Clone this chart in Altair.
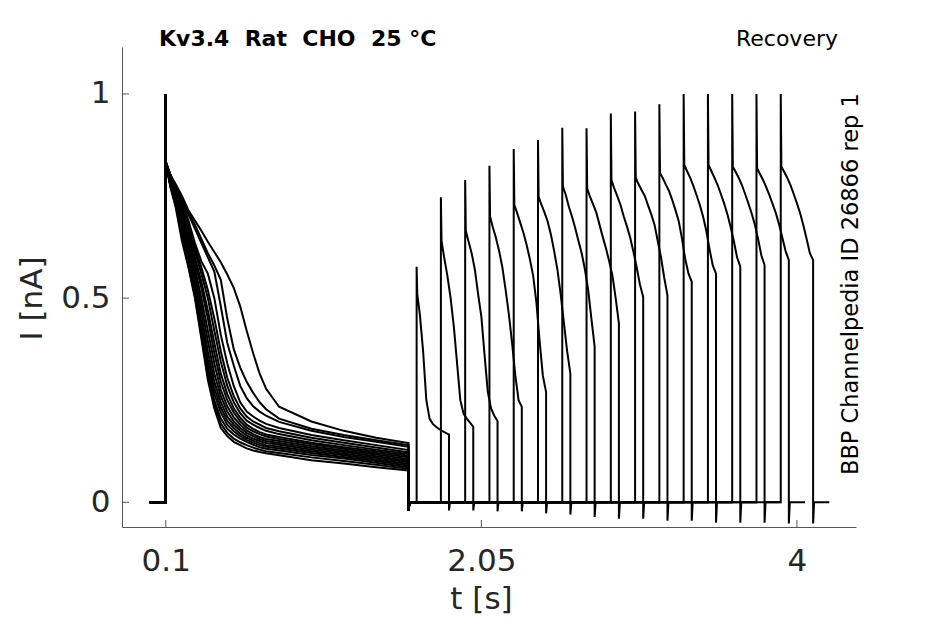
import altair as alt
import pandas as pd

# conditioning pulse: sample times (s)
p1_time = [0.10, 0.13, 0.16, 0.20, 0.24, 0.28, 0.32, 0.36, 0.40, 0.44, 0.48,
           0.52, 0.56, 0.60, 0.64, 0.68, 0.72, 0.80, 1.00, 1.20, 1.40, 1.60]

# conditioning pulse current per sweep (normalised)
p1_s01 = [0.83, 0.80, 0.78, 0.75, 0.715, 0.69, 0.665, 0.638, 0.613, 0.588, 0.558, 0.525, 0.48, 0.42, 0.365, 0.315, 0.278, 0.234, 0.198, 0.175, 0.158, 0.145]
p1_s02 = [0.83, 0.80, 0.775, 0.745, 0.71, 0.68, 0.645, 0.61, 0.58, 0.545, 0.45, 0.375, 0.33, 0.295, 0.268, 0.245, 0.228, 0.205, 0.18, 0.165, 0.152, 0.140]
p1_s03 = [0.83, 0.80, 0.775, 0.74, 0.705, 0.67, 0.635, 0.60, 0.565, 0.48, 0.39, 0.335, 0.285, 0.255, 0.235, 0.222, 0.212, 0.197, 0.175, 0.16, 0.148, 0.136]
p1_s04 = [0.835, 0.80, 0.775, 0.74, 0.69, 0.635, 0.59, 0.56, 0.50, 0.41, 0.34, 0.285, 0.245, 0.222, 0.21, 0.20, 0.192, 0.182, 0.165, 0.152, 0.140, 0.128]
p1_s05 = [0.835, 0.80, 0.77, 0.73, 0.68, 0.625, 0.575, 0.52, 0.45, 0.37, 0.305, 0.26, 0.23, 0.21, 0.198, 0.19, 0.182, 0.174, 0.158, 0.146, 0.134, 0.122]
p1_s06 = [0.83, 0.795, 0.765, 0.72, 0.67, 0.615, 0.56, 0.50, 0.42, 0.345, 0.285, 0.245, 0.218, 0.20, 0.19, 0.182, 0.175, 0.167, 0.152, 0.140, 0.129, 0.118]
p1_s07 = [0.83, 0.79, 0.76, 0.715, 0.66, 0.60, 0.54, 0.47, 0.39, 0.315, 0.265, 0.23, 0.207, 0.19, 0.18, 0.172, 0.166, 0.16, 0.146, 0.135, 0.125, 0.114]
p1_s08 = [0.83, 0.79, 0.755, 0.71, 0.65, 0.59, 0.525, 0.45, 0.365, 0.295, 0.25, 0.22, 0.198, 0.183, 0.174, 0.167, 0.161, 0.155, 0.142, 0.131, 0.121, 0.110]
p1_s09 = [0.83, 0.785, 0.75, 0.70, 0.64, 0.575, 0.50, 0.42, 0.34, 0.275, 0.235, 0.208, 0.19, 0.176, 0.167, 0.16, 0.155, 0.15, 0.137, 0.127, 0.117, 0.106]
p1_s10 = [0.83, 0.785, 0.745, 0.69, 0.63, 0.56, 0.48, 0.395, 0.315, 0.26, 0.222, 0.198, 0.182, 0.17, 0.162, 0.155, 0.15, 0.145, 0.133, 0.123, 0.113, 0.102]
p1_s11 = [0.83, 0.78, 0.74, 0.685, 0.62, 0.545, 0.46, 0.37, 0.295, 0.245, 0.21, 0.19, 0.175, 0.164, 0.156, 0.15, 0.145, 0.141, 0.129, 0.119, 0.109, 0.098]
p1_s12 = [0.83, 0.78, 0.74, 0.675, 0.61, 0.53, 0.44, 0.35, 0.28, 0.232, 0.20, 0.182, 0.168, 0.158, 0.151, 0.145, 0.14, 0.136, 0.125, 0.115, 0.105, 0.094]
p1_s13 = [0.83, 0.775, 0.735, 0.665, 0.60, 0.52, 0.425, 0.335, 0.265, 0.22, 0.19, 0.174, 0.162, 0.153, 0.146, 0.14, 0.136, 0.132, 0.121, 0.111, 0.101, 0.090]
p1_s14 = [0.83, 0.775, 0.73, 0.66, 0.59, 0.51, 0.415, 0.32, 0.25, 0.205, 0.18, 0.166, 0.156, 0.148, 0.141, 0.135, 0.131, 0.127, 0.116, 0.107, 0.097, 0.086]
p1_s15 = [0.83, 0.77, 0.73, 0.65, 0.58, 0.505, 0.41, 0.31, 0.24, 0.193, 0.17, 0.156, 0.147, 0.14, 0.134, 0.129, 0.125, 0.121, 0.11, 0.101, 0.092, 0.082]
p1_s16 = [0.83, 0.77, 0.725, 0.64, 0.575, 0.50, 0.40, 0.30, 0.23, 0.182, 0.162, 0.148, 0.140, 0.132, 0.127, 0.123, 0.12, 0.115, 0.103, 0.095, 0.086, 0.078]

# test pulse: sample times after its onset (s)
p2_time = [0.004, 0.02, 0.04, 0.06, 0.08, 0.10, 0.12, 0.14, 0.16, 0.18, 0.20]

p2_s01 = [0.51, 0.46, 0.37, 0.25, 0.205, 0.192, 0.185, 0.179, 0.174, 0.170, 0.166]
p2_s02 = [0.64, 0.60, 0.555, 0.50, 0.43, 0.34, 0.25, 0.217, 0.205, 0.195, 0.185]
p2_s03 = [0.665, 0.64, 0.61, 0.57, 0.51, 0.455, 0.36, 0.27, 0.23, 0.212, 0.199]
p2_s04 = [0.70, 0.675, 0.648, 0.615, 0.575, 0.52, 0.46, 0.39, 0.31, 0.25, 0.234]
p2_s05 = [0.728, 0.71, 0.685, 0.66, 0.63, 0.595, 0.555, 0.49, 0.395, 0.31, 0.27]
p2_s06 = [0.748, 0.73, 0.71, 0.687, 0.655, 0.615, 0.57, 0.51, 0.44, 0.37, 0.315]
p2_s07 = [0.773, 0.755, 0.725, 0.70, 0.672, 0.64, 0.61, 0.57, 0.52, 0.45, 0.381]
p2_s08 = [0.769, 0.75, 0.73, 0.71, 0.68, 0.65, 0.622, 0.59, 0.555, 0.50, 0.438]
p2_s09 = [0.789, 0.77, 0.75, 0.728, 0.70, 0.675, 0.648, 0.613, 0.575, 0.533, 0.503]
p2_s10 = [0.795, 0.78, 0.765, 0.75, 0.727, 0.705, 0.68, 0.64, 0.60, 0.55, 0.507]
p2_s11 = [0.806, 0.795, 0.778, 0.762, 0.74, 0.715, 0.688, 0.645, 0.595, 0.56, 0.54]
p2_s12 = [0.826, 0.812, 0.795, 0.775, 0.752, 0.728, 0.70, 0.665, 0.62, 0.58, 0.56]
p2_s13 = [0.826, 0.812, 0.795, 0.777, 0.755, 0.732, 0.706, 0.675, 0.64, 0.60, 0.577]
p2_s14 = [0.822, 0.81, 0.795, 0.777, 0.755, 0.732, 0.708, 0.68, 0.645, 0.605, 0.581]
p2_s15 = [0.818, 0.805, 0.79, 0.772, 0.752, 0.73, 0.708, 0.68, 0.648, 0.615, 0.593]
p2_s16 = [0.822, 0.81, 0.795, 0.777, 0.755, 0.732, 0.708, 0.678, 0.645, 0.61, 0.593]

p2_onset = [1.65, 1.80, 1.95, 2.10, 2.25, 2.40, 2.55, 2.70,
            2.85, 3.00, 3.15, 3.30, 3.45, 3.60, 3.75, 3.90]
p2_peak = [0.577, 0.747, 0.789, 0.824, 0.865, 0.887, 0.917, 0.916,
           0.952, 0.957, 0.975, 1.0, 1.0, 1.0, 1.0, 1.0]
p2_tail = [-0.02, -0.02, -0.022, -0.022, -0.027, -0.03, -0.036, -0.04,
           -0.04, -0.045, -0.045, -0.05, -0.05, -0.05, -0.052, -0.052]

p1_start, p1_end, p1_peak, p1_tail = 0.1, 1.6, 1.0, -0.02
p2_len, sweep_after = 0.2, 0.1

x_ticks = [0.1, 2.05, 4]
y_ticks = [0, 0.5, 1]

p1_sweeps = [p1_s01, p1_s02, p1_s03, p1_s04, p1_s05, p1_s06, p1_s07, p1_s08,
             p1_s09, p1_s10, p1_s11, p1_s12, p1_s13, p1_s14, p1_s15, p1_s16]
p2_sweeps = [p2_s01, p2_s02, p2_s03, p2_s04, p2_s05, p2_s06, p2_s07, p2_s08,
             p2_s09, p2_s10, p2_s11, p2_s12, p2_s13, p2_s14, p2_s15, p2_s16]

rows = []
for k in range(len(p2_onset)):
    on, off = p2_onset[k], p2_onset[k] + p2_len
    pts = [(0.0, 0.0), (p1_start, 0.0), (p1_start, p1_peak)]
    pts += list(zip(p1_time, p1_sweeps[k]))
    pts += [(p1_end, p1_tail), (p1_end + 0.006, 0.0), (on, 0.0), (on, p2_peak[k])]
    pts += [(on + r, v) for r, v in zip(p2_time, p2_sweeps[k])]
    pts += [(off, p2_tail[k]), (off + 0.006, 0.0), (off + sweep_after, 0.0)]
    for i, (t, cur) in enumerate(pts):
        rows.append({"sweep": k + 1, "i": i, "t": t, "I": cur})
df = pd.DataFrame(rows)

W, H = 734, 480
axis_gray = "#555555"
text_gray = "#262626"
font = "DejaVu Sans"

x_scale = alt.Scale(domain=[-0.1705, 4.365], nice=False, zero=False)
y_scale = alt.Scale(domain=[-0.0605, 1.115], nice=False, zero=False)

x_axis = alt.Axis(
    values=x_ticks, format=".3~g", title="t [s]", grid=False,
    ticks=False, tickSize=0, labelPadding=19, labelFlush=False, labelOverlap=False,
    labelFont=font, labelFontSize=31, labelColor=text_gray,
    titleFont=font, titleFontSize=31, titleColor=text_gray, titleFontWeight="normal",
    titleX=359, titleY=81, titleAlign="center", titleBaseline="alphabetic",
    domainColor=axis_gray, domainWidth=1)
y_axis = alt.Axis(
    values=y_ticks, format=".3~g", title="I [nA]", grid=False,
    ticks=False, tickSize=0, labelPadding=12, labelFlush=False, labelOverlap=False,
    labelFont=font, labelFontSize=31, labelColor=text_gray,
    titleFont=font, titleFontSize=31, titleColor=text_gray, titleFontWeight="normal",
    titleX=-81, titleY=251, titleAngle=270, titleAlign="center", titleBaseline="alphabetic",
    domainColor=axis_gray, domainWidth=1)

traces = alt.Chart(df).mark_line(color="black", strokeWidth=2).encode(
    x=alt.X("t:Q", scale=x_scale, axis=x_axis, title="t [s]"),
    y=alt.Y("I:Q", scale=y_scale, axis=y_axis, title="I [nA]"),
    detail="sweep:N",
    order="i:Q",
)

# inward tick marks
xtick_marks = alt.Chart(pd.DataFrame({"t": x_ticks})).mark_rule(color=axis_gray, strokeWidth=1).encode(
    x=alt.X("t:Q", scale=x_scale, axis=x_axis, title="t [s]"),
    y=alt.value(H), y2=alt.value(H - 7))
ytick_marks = alt.Chart(pd.DataFrame({"I": y_ticks})).mark_rule(color=axis_gray, strokeWidth=1).encode(
    y=alt.Y("I:Q", scale=y_scale, axis=y_axis, title="I [nA]"),
    x=alt.value(0), x2=alt.value(7))

title_left = alt.Chart(pd.DataFrame({"s": ["Kv3.4\u00a0 Rat\u00a0 CHO\u00a0 25 °C"]})).mark_text(
    font=font, fontSize=22, fontWeight="bold", color="black", align="left", baseline="alphabetic"
).encode(text="s:N", x=alt.value(37), y=alt.value(-1))

title_right = alt.Chart(pd.DataFrame({"s": ["Recovery"]})).mark_text(
    font=font, fontSize=22, color="black", align="right", baseline="alphabetic"
).encode(text="s:N", x=alt.value(716), y=alt.value(-1))

side_note = alt.Chart(pd.DataFrame({"s": ["BBP Channelpedia ID 26866 rep 1"]})).mark_text(
    font=font, fontSize=22.5, color="black", align="left", baseline="alphabetic", angle=270
).encode(text="s:N", x=alt.value(736), y=alt.value(428))

chart = alt.layer(traces, xtick_marks, ytick_marks, title_left, title_right, side_note).properties(
    width=W, height=H,
    autosize=alt.AutoSizeParams(type="none"),
    padding={"left": 114, "top": 39, "right": 81, "bottom": 89},
    background="white",
).configure_view(strokeWidth=0)

chart.save("out.html", embed_options={"renderer": "svg", "actions": False})
